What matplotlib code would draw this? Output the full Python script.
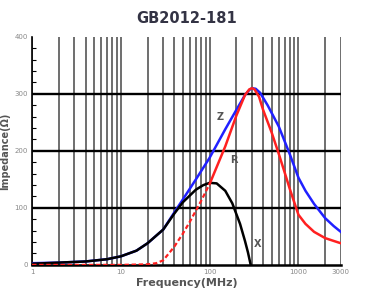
import matplotlib.pyplot as plt
import numpy as np
from matplotlib.ticker import MultipleLocator, NullFormatter, FixedLocator

# =========================
# Data
# =========================
z_freq = [1, 2, 4, 7, 10, 15, 20, 30, 40, 50, 70, 100, 150, 200, 250, 280, 300,
          330, 370, 450, 600, 800, 1000, 1200, 1500, 2000, 2500, 3000]
z_val = [3, 4, 6, 10, 15, 25, 38, 62, 92, 115, 150, 188, 238, 272, 298, 307, 310,
         309, 302, 280, 243, 194, 153, 130, 107, 82, 68, 58]

r_freq = [1, 10, 20, 25, 30, 40, 50, 60, 80, 100, 150, 200, 250, 280, 300, 320,
          360, 400, 500, 600, 700, 800, 1000, 1200, 1500, 2000, 2500, 3000]
r_val = [0, 0, 1, 3, 8, 32, 55, 76, 112, 142, 208, 262, 298, 308, 310, 308,
         295, 272, 232, 195, 162, 133, 88, 72, 58, 47, 42, 38]

x_freq = [1, 2, 4, 7, 10, 15, 20, 30, 40, 50, 70, 85, 100, 120, 150, 180, 220,
          250, 270, 290]
x_val = [2, 4, 6, 10, 15, 25, 38, 62, 90, 110, 132, 140, 144, 143, 130, 108, 72,
         42, 22, 0]

x_ticks = [1, 10, 100, 1000, 3000]
y_ticks = [0, 100, 200, 300, 400]

# =========================
# Plot
# =========================
fig = plt.figure(figsize=(3.77, 3.0), dpi=100)
ax = fig.add_axes([0.085, 0.117, 0.819, 0.76])

ax.set_xscale("log")
ax.set_xlim(1, 3000)
ax.set_ylim(0, 400)

# vertical grid at 1..9 per decade
grid_x = [m * 10 ** d for d in range(4) for m in range(1, 10) if m * 10 ** d <= 3000]
for gx in grid_x:
    ax.axvline(gx, color="#555555", lw=1.2, zorder=1)
for gy in [100, 200, 300]:
    ax.axhline(gy, color="black", lw=1.7, zorder=1)

ax.plot(z_freq, z_val, color="#2020ff", lw=1.8, zorder=3)
ax.plot(x_freq, x_val, color="black", lw=1.8, zorder=4)

# red: lower part looks dotted in the picture
r_f = np.array(r_freq)
r_v = np.array(r_val)
low = r_f <= 100
ax.plot(r_f[low], r_v[low], color="#ff2020", lw=1.6, ls=(0, (2, 1.2)), zorder=5)
ax.plot(r_f[r_f >= 100], r_v[r_f >= 100], color="#ff2020", lw=1.8, zorder=5)

# curve labels
ax.text(132, 260, "Z", fontsize=7, color="#555555", fontweight="bold",
        ha="center", va="center")
ax.text(188, 184, "R", fontsize=7, color="#555555", fontweight="bold",
        ha="center", va="center")
ax.text(350, 37, "X", fontsize=7, color="#555555", fontweight="bold",
        ha="center", va="center")

# axes styling
ax.spines["top"].set_visible(False)
ax.spines["right"].set_visible(False)
ax.spines["left"].set_linewidth(1.2)
ax.spines["bottom"].set_linewidth(1.8)

ax.xaxis.set_major_locator(FixedLocator(x_ticks))
ax.xaxis.set_minor_formatter(NullFormatter())
ax.set_xticklabels([str(t) for t in x_ticks])
ax.tick_params(axis="x", which="both", length=0, labelsize=5, labelcolor="#888888", pad=3)

ax.set_yticks(y_ticks)
ax.yaxis.set_minor_locator(MultipleLocator(20))
ax.tick_params(axis="y", which="major", length=0, labelsize=5, labelcolor="#888888", pad=3)
ax.tick_params(axis="y", which="minor", direction="in", length=3, width=0.8)

ax.set_title("GB2012-181", fontsize=10.5, fontweight="bold", color="#333344", pad=10)
ax.set_xlabel("Frequency(MHz)", fontsize=8, fontweight="bold", color="#555555", labelpad=2)
ax.set_ylabel("Impedance(\u03a9)", fontsize=7, fontweight="bold", color="#555555", labelpad=3)

plt.savefig("out.png", dpi=100)
